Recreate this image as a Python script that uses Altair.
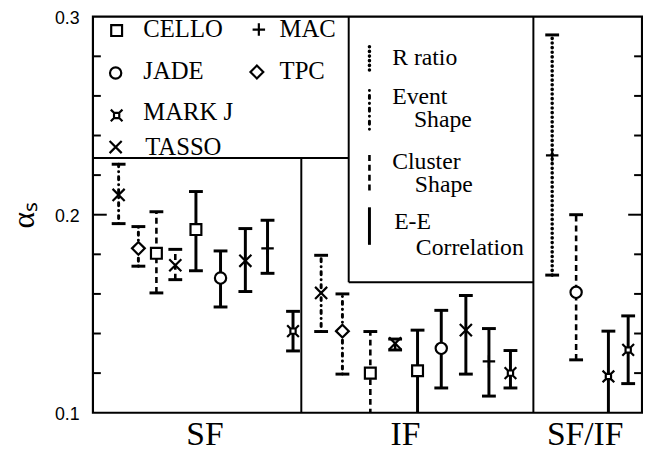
import altair as alt
import pandas as pd

# ---------------- data ----------------
section_names = ["SF", "IF", "SF/IF"]
section_centers = [5.08, 14.21, 22.39]

experiments = ["TASSO", "TPC", "CELLO", "TASSO", "CELLO", "JADE", "TASSO", "MAC", "MARK J",
               "TASSO", "TPC", "CELLO", "TASSO", "CELLO", "JADE", "TASSO", "MAC", "MARK J",
               "MAC", "JADE", "MARK J", "MARK J"]
methods = ["Event Shape", "Event Shape", "Cluster Shape", "Cluster Shape",
           "E-E Correlation", "E-E Correlation", "E-E Correlation", "E-E Correlation", "E-E Correlation",
           "Event Shape", "Event Shape", "Cluster Shape", "Cluster Shape",
           "E-E Correlation", "E-E Correlation", "E-E Correlation", "E-E Correlation", "E-E Correlation",
           "R ratio", "Cluster Shape", "E-E Correlation", "E-E Correlation"]
slot = [1.17, 2.07, 2.89, 3.75, 4.69, 5.81, 6.94, 7.95, 9.11,
        10.39, 11.36, 12.63, 13.76, 14.78, 15.86, 16.98, 18.03, 19.01,
        20.91, 22.00, 23.47, 24.37]
alpha_s = [0.210, 0.183, 0.1805, 0.1745, 0.1925, 0.168, 0.1767, 0.183, 0.1412,
           0.1605, 0.1412, 0.120, 0.135, 0.1212, 0.1325, 0.1417, 0.1259, 0.120,
           0.230, 0.1608, 0.1183, 0.1317]
alpha_hi = [0.2255, 0.194, 0.2015, 0.1825, 0.2117, 0.1817, 0.193, 0.1972, 0.1512,
            0.1795, 0.160, 0.141, 0.1372, 0.1417, 0.1517, 0.1592, 0.1425, 0.1314,
            0.2908, 0.200, 0.1412, 0.1489]
alpha_lo = [0.1955, 0.174, 0.1605, 0.1672, 0.1717, 0.1534, 0.1612, 0.1704, 0.1312,
            0.141, 0.1195, 0.099, 0.1317, 0.098, 0.1125, 0.1195, 0.1084, 0.1125,
            0.1695, 0.1267, 0.095, 0.1147]

legend_experiments = ["CELLO", "MAC", "JADE", "TPC", "MARK J", "TASSO"]
legend_methods = ["R ratio", "Event Shape", "Cluster Shape", "E-E Correlation"]

df = pd.DataFrame({"exp": experiments, "method": methods, "x": slot,
                   "y": alpha_s, "hi": alpha_hi, "lo": alpha_lo})

# ---------------- layout helpers ----------------
W, H = 556, 401
LEFT, TOP = 94, 14
XMAX = 25


def xu(px):
    return (px - LEFT) / W * XMAX


def yu(py):
    return 0.1 + (TOP + H - py) / H * 0.2


SERIF = "Liberation Serif"
SANS = "Liberation Sans"

xscale = alt.Scale(domain=[0, XMAX], nice=False, zero=False)
yscale = alt.Scale(domain=[0.1, 0.3], nice=False, zero=False)
label_expr = " : ".join(
    [f"datum.value < {(section_centers[i] + section_centers[i + 1]) / 2} ? '{section_names[i]}'"
     for i in range(len(section_names) - 1)] + [f"'{section_names[-1]}'"])
xaxis = alt.Axis(values=section_centers, labelExpr=label_expr, ticks=False, domain=False,
                 grid=False, labelFont=SERIF, labelFontSize=34, labelPadding=5,
                 labelColor="black", labelFlush=False, labelOverlap=False)
yaxis = alt.Axis(values=[0.1, 0.2, 0.3], format=".1f", ticks=False, domain=False, grid=False,
                 labelFont=SANS, labelFontSize=18, labelColor="black", labelPadding=14,
                 labelOffset=2, labelFlush=False,
                 title="αₛ", titleFont=SERIF, titleFontSize=32, titleFontWeight="normal",
                 titleColor="black", titlePadding=14)


def X(f="x"):
    return alt.X(f"{f}:Q", scale=xscale, axis=xaxis, title=None)


def Y(f="y"):
    return alt.Y(f"{f}:Q", scale=yscale, axis=yaxis, title="αₛ")


# ---------------- shapes ----------------
shape_dom = ["CELLO", "JADE", "MARK J", "TASSO", "MAC", "TPC"]
markj = ("M-0.45,-0.45L0.45,-0.45L0.45,0.45L-0.45,0.45Z"
         "M-0.45,-0.45L-1,-1M0.45,-0.45L1,-1M0.45,0.45L1,1M-0.45,0.45L-1,1")
shape_rng = ["square", "circle", markj, "M-1,-1L1,1M-1,1L1,-1", "M-1,0L1,0M0,-1L0,1", "diamond"]
size_rng = [121, 169, 324, 196, 225, 300]
shape_enc = alt.Shape("exp:N", scale=alt.Scale(domain=shape_dom, range=shape_rng), legend=None)
size_enc = alt.Size("exp:N", scale=alt.Scale(domain=shape_dom, range=size_rng), legend=None)

styles = {
    "R ratio": dict(strokeDash=[0.1, 4.6], strokeCap="round", strokeWidth=3.6),
    "Event Shape": dict(strokeDash=[0.1, 5, 3, 5], strokeCap="round", strokeWidth=3),
    "Cluster Shape": dict(strokeDash=[6, 4], strokeCap="butt", strokeWidth=2.6),
    "E-E Correlation": dict(strokeCap="butt", strokeWidth=3),
}

# ---------------- frame structure ----------------
struct = pd.DataFrame([
    # section dividers
    dict(x=xu(305), x2=xu(305), y=0.1, y2=yu(157)),
    dict(x=xu(540), x2=xu(540), y=0.1, y2=0.3),
    # legend boxes
    dict(x=0, x2=xu(353), y=yu(157), y2=yu(157)),
    dict(x=xu(353), x2=xu(353), y=yu(283), y2=0.3),
    dict(x=xu(353), x2=xu(540), y=yu(283), y2=yu(283)),
])
tick_vals = [round(0.1 + 0.02 * i, 2) for i in range(1, 10)]
tick_rows = []
for v in tick_vals:
    ln = 14 if abs(v - 0.2) < 1e-9 else 8
    tick_rows.append(dict(x=0, x2=xu(LEFT + ln), y=v, y2=v))
    tick_rows.append(dict(x=XMAX - xu(LEFT + ln), x2=XMAX, y=v, y2=v))
struct = pd.concat([struct, pd.DataFrame(tick_rows)], ignore_index=True)

struct_layer = alt.Chart(struct).mark_rule(color="black", strokeWidth=2).encode(
    x=X(), x2="x2:Q", y=Y(), y2="y2:Q")

# ---------------- error bars ----------------
layers = [struct_layer]
for m in legend_methods:
    layers.append(alt.Chart(df).transform_filter(alt.datum.method == m).mark_rule(
        color="black", clip=True, **styles[m]).encode(x=X(), y=Y("lo"), y2="hi:Q"))

cap = "M-1,0L1,0"
cap_df = pd.concat([df.assign(y=df["hi"]), df.assign(y=df["lo"])], ignore_index=True)
cap_df = cap_df[cap_df["y"] >= 0.1]
layers.append(alt.Chart(cap_df).mark_point(shape=cap, size=196, strokeWidth=3, color="black",
                                           filled=False, opacity=1).encode(x=X(), y=Y()))

layers.append(alt.Chart(df).mark_point(stroke="black", fill="white", strokeWidth=2.2,
                                       opacity=1, fillOpacity=1).encode(
    x=X(), y=Y(), shape=shape_enc, size=size_enc))

# ---------------- legend box 1 (experiments) ----------------
leg1_pos = {"CELLO": (118, 28, 145, 27), "MAC": (262, 27, 283, 27),
            "JADE": (117, 71, 145, 69), "TPC": (260, 70, 283, 69),
            "MARK J": (118, 114, 145, 111), "TASSO": (117, 146, 147, 146)}
leg1 = pd.DataFrame([dict(exp=e, x=xu(leg1_pos[e][0]), y=yu(leg1_pos[e][1]),
                          tx=xu(leg1_pos[e][2]), ty=yu(leg1_pos[e][3]))
                     for e in legend_experiments])
layers.append(alt.Chart(leg1).mark_point(stroke="black", fill="white", strokeWidth=2.2,
                                         opacity=1, fillOpacity=1).encode(
    x=X(), y=Y(), shape=shape_enc, size=size_enc))
layers.append(alt.Chart(leg1).mark_text(align="left", baseline="middle", font=SERIF,
                                        fontSize=25, color="black").encode(
    x=X("tx"), y=Y("ty"), text="exp:N"))

# ---------------- legend box 2 (methods) ----------------
leg2_lines = {"R ratio": (40, 68), "Event Shape": (88, 128),
              "Cluster Shape": (152, 190), "E-E Correlation": (207, 245)}
for m in legend_methods:
    d = pd.DataFrame([dict(x=xu(374), y=yu(leg2_lines[m][1]), y2=yu(leg2_lines[m][0]))])
    layers.append(alt.Chart(d).mark_rule(color="black", **styles[m]).encode(
        x=X(), y=Y(), y2="y2:Q"))
leg2_text = [("R ratio", 397, 56), ("Event", 397, 95), ("Shape", 419, 119),
             ("Cluster", 397, 161), ("Shape", 420, 184), ("E-E", 399, 222),
             ("Correlation", 421, 248)]
leg2 = pd.DataFrame([dict(t=t, x=xu(px), y=yu(py)) for t, px, py in leg2_text])
layers.append(alt.Chart(leg2).mark_text(align="left", baseline="middle", font=SERIF,
                                        fontSize=24, color="black").encode(
    x=X(), y=Y(), text="t:N"))

chart = alt.layer(*layers).properties(
    width=W, height=H,
    autosize=alt.AutoSizeParams(type="none"),
    padding={"left": LEFT - 8, "top": TOP - 8, "right": 1, "bottom": 40},
    background="white",
).configure_view(stroke="black", strokeWidth=2.2).configure_axis(grid=False).configure_text(
    font=SERIF)

chart.save("out.html", embed_options={"renderer": "svg", "actions": False})
